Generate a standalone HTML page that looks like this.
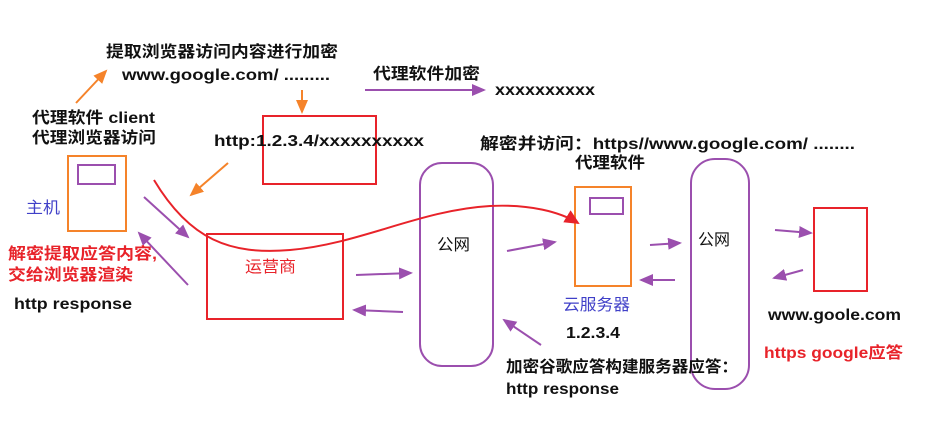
<!DOCTYPE html>
<html><head><meta charset="utf-8"><style>
body{margin:0;background:#fff;}
svg text{font-family:"Liberation Sans","Noto Sans CJK SC",sans-serif;font-weight:bold;font-size:16px;fill:#111;}
</style></head><body>
<svg width="943" height="426" viewBox="0 0 943 426" xmlns="http://www.w3.org/2000/svg">
<defs>
<marker id="pa" markerWidth="16" markerHeight="16" refX="12" refY="6" orient="auto" markerUnits="userSpaceOnUse"><path d="M0,0 L14,6 L0,12 z" fill="#9b4fae"/></marker>
<marker id="oa" markerWidth="16" markerHeight="16" refX="12" refY="6" orient="auto" markerUnits="userSpaceOnUse"><path d="M0,0 L14,6 L0,12 z" fill="#f5832a"/></marker>
<marker id="ra" markerWidth="18" markerHeight="18" refX="13" refY="7" orient="auto" markerUnits="userSpaceOnUse"><path d="M0,0 L15,7 L0,14 z" fill="#e8232a"/></marker>
</defs>
<g fill="none">
<rect x="68" y="156" width="58" height="75" stroke="#f5832a" stroke-width="2"/>
<rect x="78" y="165" width="37" height="19" stroke="#9b4fae" stroke-width="2"/>
<rect x="207" y="234" width="136" height="85" stroke="#e8232a" stroke-width="2"/>
<rect x="263" y="116" width="113" height="68" stroke="#e8232a" stroke-width="2"/>
<rect x="420" y="163" width="73" height="203" rx="22" stroke="#9b4fae" stroke-width="2"/>
<rect x="575" y="187" width="56" height="99" stroke="#f5832a" stroke-width="2"/>
<rect x="590" y="198" width="33" height="16" stroke="#9b4fae" stroke-width="2"/>
<rect x="691" y="159" width="58" height="230" rx="24" stroke="#9b4fae" stroke-width="2"/>
<rect x="814" y="208" width="53" height="83" stroke="#e8232a" stroke-width="2"/>
<g stroke="#9b4fae" stroke-width="2" marker-end="url(#pa)">
<line x1="144" y1="197" x2="188" y2="237"/>
<line x1="188" y1="285" x2="139" y2="233"/>
<line x1="356" y1="275" x2="411" y2="273"/>
<line x1="403" y1="312" x2="354" y2="310"/>
<line x1="507" y1="251" x2="555" y2="242"/>
<line x1="650" y1="245" x2="680" y2="243"/>
<line x1="675" y1="280" x2="641" y2="280"/>
<line x1="775" y1="230" x2="811" y2="233"/>
<line x1="803" y1="270" x2="774" y2="278"/>
<line x1="541" y1="345" x2="504" y2="320"/>
<line x1="365" y1="90" x2="484" y2="90"/>
</g>
<g stroke="#f5832a" stroke-width="2" marker-end="url(#oa)">
<line x1="76" y1="103" x2="106" y2="71"/>
<line x1="302" y1="90" x2="302" y2="112"/>
<line x1="228" y1="163" x2="191" y2="195"/>
</g>
<path d="M154,180 C190,240 230,255 290,250 C360,244 420,210 490,206 C530,204 560,212 578,223" stroke="#e8232a" stroke-width="2" marker-end="url(#ra)"/>
</g>
<text x="106" y="57" textLength="232" lengthAdjust="spacingAndGlyphs">提取浏览器访问内容进行加密</text>
<text x="122" y="80" textLength="208" lengthAdjust="spacingAndGlyphs">www.google.com/ .........</text>
<text x="373" y="79" textLength="107" lengthAdjust="spacingAndGlyphs">代理软件加密</text>
<text x="495" y="95" textLength="100" lengthAdjust="spacingAndGlyphs">xxxxxxxxxx</text>
<text x="32" y="123" textLength="123" lengthAdjust="spacingAndGlyphs">代理软件 client</text>
<text x="32" y="143" textLength="124" lengthAdjust="spacingAndGlyphs">代理浏览器访问</text>
<text x="214" y="146" textLength="210" lengthAdjust="spacingAndGlyphs">http:1.2.3.4/xxxxxxxxxx</text>
<text x="480" y="149" textLength="375" lengthAdjust="spacingAndGlyphs">解密并访问：https//www.google.com/ ........</text>
<text x="575" y="168" textLength="70" lengthAdjust="spacingAndGlyphs">代理软件</text>
<text x="26" y="213" style="fill:#4040c8;font-weight:normal" textLength="34" lengthAdjust="spacingAndGlyphs">主机</text>
<text x="8" y="259" style="fill:#e8232a" textLength="149" lengthAdjust="spacingAndGlyphs">解密提取应答内容,</text>
<text x="8" y="280" style="fill:#e8232a" textLength="125" lengthAdjust="spacingAndGlyphs">交给浏览器渲染</text>
<text x="14" y="309" textLength="118" lengthAdjust="spacingAndGlyphs">http response</text>
<text x="245" y="272" style="fill:#e8232a;font-weight:normal" textLength="51" lengthAdjust="spacingAndGlyphs">运营商</text>
<text x="437" y="250" style="font-weight:normal" textLength="33" lengthAdjust="spacingAndGlyphs">公网</text>
<text x="698" y="245" style="font-weight:normal" textLength="32" lengthAdjust="spacingAndGlyphs">公网</text>
<text x="563" y="310" style="fill:#4040c8;font-weight:normal" textLength="67" lengthAdjust="spacingAndGlyphs">云服务器</text>
<text x="566" y="338" textLength="54" lengthAdjust="spacingAndGlyphs">1.2.3.4</text>
<text x="768" y="320" textLength="133" lengthAdjust="spacingAndGlyphs">www.goole.com</text>
<text x="764" y="358" style="fill:#e8232a" textLength="139" lengthAdjust="spacingAndGlyphs">https google应答</text>
<text x="506" y="372" textLength="232" lengthAdjust="spacingAndGlyphs">加密谷歌应答构建服务器应答：</text>
<text x="506" y="394" textLength="113" lengthAdjust="spacingAndGlyphs">http response</text>
</svg>
</body></html>
